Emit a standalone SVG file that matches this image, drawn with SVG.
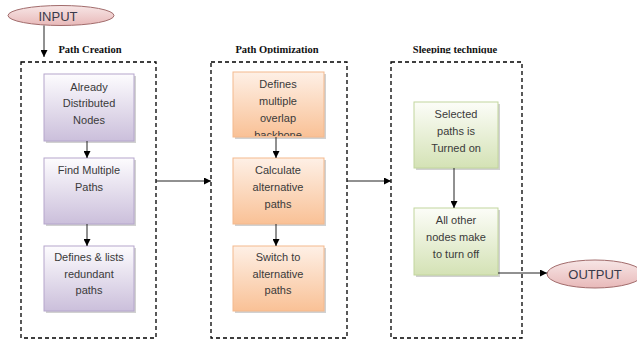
<svg xmlns="http://www.w3.org/2000/svg" width="637" height="340" viewBox="0 0 637 340">
  <defs>
    <linearGradient id="gPurple" x1="0" y1="0" x2="0" y2="1">
      <stop offset="0" stop-color="#fdfcfe"/>
      <stop offset="1" stop-color="#cbbfdb"/>
    </linearGradient>
    <linearGradient id="gOrange" x1="0" y1="0" x2="0" y2="1">
      <stop offset="0" stop-color="#fef0e6"/>
      <stop offset="1" stop-color="#f9c196"/>
    </linearGradient>
    <linearGradient id="gGreen" x1="0" y1="0" x2="0" y2="1">
      <stop offset="0" stop-color="#fcfdf8"/>
      <stop offset="1" stop-color="#d4e2b5"/>
    </linearGradient>
    <linearGradient id="gPink" x1="0" y1="0" x2="0" y2="1">
      <stop offset="0" stop-color="#f7e6e6"/>
      <stop offset="1" stop-color="#e8b9b9"/>
    </linearGradient>
    <marker id="arrow" viewBox="0 0 10 10" refX="10" refY="5" markerWidth="7" markerHeight="7" markerUnits="userSpaceOnUse" orient="auto">
      <path d="M0,0 L10,5 L0,10 z" fill="#000"/>
    </marker>
    <clipPath id="titleClip">
      <rect x="0" y="0" width="637" height="53.5"/>
    </clipPath>
    <clipPath id="n4Clip">
      <rect x="233" y="72" width="91" height="64"/>
    </clipPath>
  </defs>
  <style>
    .group { fill: none; stroke: #000; stroke-width: 1.3; stroke-dasharray: 4 3; }
    .title { font-family: "Liberation Serif", serif; font-weight: bold; font-size: 10.5px; fill: #111; text-anchor: middle; }
    .shadow { fill: #bdbdbd; opacity: 0.7; }
    .purple { fill: url(#gPurple); stroke: #b5a6cc; stroke-width: 1; }
    .orange { fill: url(#gOrange); stroke: #f4b98d; stroke-width: 1; }
    .green { fill: url(#gGreen); stroke: #c2d69d; stroke-width: 1; }
    .oval { fill: url(#gPink); stroke: #a26c6c; stroke-width: 1; }
    .label { font-family: "Liberation Sans", Arial, sans-serif; font-size: 11px; fill: #3a3a3a; text-anchor: middle; }
    .term { font-family: "Liberation Sans", Arial, sans-serif; font-size: 13px; fill: #3a3a4a; text-anchor: middle; }
    .link { fill: none; stroke: #222; stroke-width: 1; marker-end: url(#arrow); }
  </style>

  <!-- stage containers -->
  <g id="stage-creation">
    <rect class="group" x="21" y="62" width="135" height="276"/>
    <text class="title" x="90" y="53" clip-path="url(#titleClip)">Path Creation</text>
  </g>
  <g id="stage-optimization">
    <rect class="group" x="211" y="62" width="136" height="276"/>
    <text class="title" x="277" y="53" clip-path="url(#titleClip)">Path Optimization</text>
  </g>
  <g id="stage-sleeping">
    <rect class="group" x="391" y="62" width="131" height="276"/>
    <text class="title" x="455" y="53" clip-path="url(#titleClip)">Sleeping technique</text>
  </g>

  <!-- terminals -->
  <g id="input">
    <ellipse class="oval" cx="61" cy="15.5" rx="53" ry="10"/>
    <text class="term" x="58" y="20.5">INPUT</text>
  </g>
  <g id="output">
    <ellipse class="oval" cx="595" cy="274" rx="48" ry="14" stroke="#d59a98"/>
    <text class="term" x="595" y="278.5">OUTPUT</text>
  </g>

  <!-- path creation nodes -->
  <g id="n1">
    <rect class="shadow" x="46" y="76" width="90" height="67"/>
    <rect class="purple" x="44" y="74" width="90" height="67"/>
    <text class="label" x="89" y="91">Already</text>
    <text class="label" x="89" y="107">Distributed</text>
    <text class="label" x="89" y="123.5">Nodes</text>
  </g>
  <g id="n2">
    <rect class="shadow" x="46" y="160" width="90" height="66"/>
    <rect class="purple" x="44" y="158" width="90" height="66"/>
    <text class="label" x="89" y="174">Find Multiple</text>
    <text class="label" x="89" y="191">Paths</text>
  </g>
  <g id="n3">
    <rect class="shadow" x="46" y="248" width="90" height="65"/>
    <rect class="purple" x="44" y="246" width="90" height="65"/>
    <text class="label" x="89" y="261">Defines &amp; lists</text>
    <text class="label" x="89" y="277.5">redundant</text>
    <text class="label" x="89" y="294">paths</text>
  </g>

  <!-- path optimization nodes -->
  <g id="n4">
    <rect class="shadow" x="235" y="74" width="91" height="65"/>
    <rect class="orange" x="233" y="72" width="91" height="65"/>
    <g clip-path="url(#n4Clip)">
      <text class="label" x="278" y="88">Defines</text>
      <text class="label" x="278" y="105">multiple</text>
      <text class="label" x="278" y="121.5">overlap</text>
      <text class="label" x="278" y="138.5">backbone</text>
    </g>
  </g>
  <g id="n5">
    <rect class="shadow" x="235" y="160" width="91" height="66"/>
    <rect class="orange" x="233" y="158" width="91" height="66"/>
    <text class="label" x="278" y="174">Calculate</text>
    <text class="label" x="278" y="191">alternative</text>
    <text class="label" x="278" y="207.5">paths</text>
  </g>
  <g id="n6">
    <rect class="shadow" x="235" y="248" width="91" height="65"/>
    <rect class="orange" x="233" y="246" width="91" height="65"/>
    <text class="label" x="278" y="261">Switch to</text>
    <text class="label" x="278" y="278">alternative</text>
    <text class="label" x="278" y="294">paths</text>
  </g>

  <!-- sleeping technique nodes -->
  <g id="n7">
    <rect class="shadow" x="416" y="104" width="84" height="66"/>
    <rect class="green" x="414" y="102" width="84" height="66"/>
    <text class="label" x="456" y="118">Selected</text>
    <text class="label" x="456" y="135">paths is</text>
    <text class="label" x="456" y="151.5">Turned on</text>
  </g>
  <g id="n8">
    <rect class="shadow" x="416" y="210" width="84" height="67"/>
    <rect class="green" x="414" y="208" width="84" height="67"/>
    <text class="label" x="456" y="224">All other</text>
    <text class="label" x="456" y="241">nodes make</text>
    <text class="label" x="456" y="257.5">to turn off</text>
  </g>

  <!-- connectors -->
  <g id="connectors">
    <line class="link" x1="44" y1="25.5" x2="44" y2="57"/>
    <line class="link" x1="87" y1="141" x2="87" y2="158"/>
    <line class="link" x1="87" y1="224" x2="87" y2="246"/>
    <line class="link" x1="156" y1="181" x2="211" y2="181"/>
    <line class="link" x1="276" y1="137" x2="276" y2="158"/>
    <line class="link" x1="276" y1="224" x2="276" y2="246"/>
    <line class="link" x1="347" y1="181" x2="391" y2="181"/>
    <line class="link" x1="454" y1="168" x2="454" y2="208"/>
    <line class="link" x1="498" y1="273" x2="547" y2="273"/>
  </g>
</svg>
